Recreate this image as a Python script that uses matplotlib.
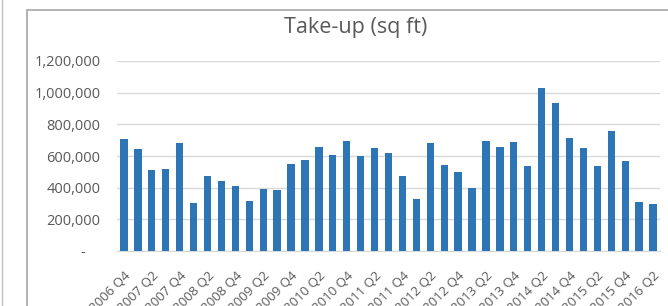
import matplotlib.pyplot as plt
from matplotlib.patches import Rectangle
from matplotlib.lines import Line2D
from matplotlib.ticker import FuncFormatter

# quarterly take-up, 2006 Q4 .. 2016 Q2
quarters = ["2006 Q4"] + [f"{y} Q{q}" for y in range(2007, 2016) for q in range(1, 5)] + ["2016 Q1", "2016 Q2"]
take_up = [
    705000, 644000, 510000, 516000, 680000,
    303000, 474000, 442000, 411000,
    316000, 390000, 383000, 550000,
    575000, 657000, 608000, 697000,
    598000, 651000, 617000, 476000,
    326000, 680000, 543000, 501000,
    400000, 697000, 655000, 686000,
    539000, 1027000, 933000, 716000,
    651000, 539000, 756000, 571000,
    310000, 295000,
]
y_ticks = [0, 200000, 400000, 600000, 800000, 1000000, 1200000]

txt = "#595959"
plt.rcParams["font.family"] = ["Open Sans", "DejaVu Sans"]

fig = plt.figure(figsize=(6.68, 3.06), dpi=100)

# chart frame, cropped at right/bottom like the screenshot
fig.patches.append(Rectangle((27 / 668, -0.1), 1.0, 1 - 10 / 306 + 0.1, transform=fig.transFigure,
                             fill=False, edgecolor="#A6A6A6", linewidth=1.2))
fig.lines.append(Line2D([1.5 / 668, 1.5 / 668], [0, 1], transform=fig.transFigure, color="#BFBFBF", linewidth=1))

ax = fig.add_axes([117 / 668, 1 - 251 / 306, 543 / 668, 190 / 306])
x = range(len(quarters))
ax.bar(x, take_up, width=0.52, color="#2E75B6", zorder=3)

ax.set_xlim(-0.5, len(quarters) - 0.5)
ax.set_ylim(0, 1200000)
ax.set_yticks(y_ticks)
ax.yaxis.set_major_formatter(FuncFormatter(lambda v, p: "-    " if v == 0 else f"{int(v):,}"))
ax.set_xticks(list(x)[::2])
ax.set_xticklabels(quarters[::2], rotation=45, ha="right", rotation_mode="anchor")

ax.grid(axis="y", color="#D9D9D9", linewidth=1, zorder=0)
for s in ["top", "right", "left"]:
    ax.spines[s].set_visible(False)
ax.spines["bottom"].set_color("#D9D9D9")
ax.tick_params(axis="both", length=0, colors=txt)
ax.tick_params(axis="y", labelsize=10.5, pad=12)
ax.tick_params(axis="x", labelsize=9.5, pad=13)

fig.text(356 / 668, 1 - 33 / 306, "Take-up (sq ft)", ha="center", va="baseline", fontsize=15.5, color=txt)

fig.savefig("out.png", dpi=100)
